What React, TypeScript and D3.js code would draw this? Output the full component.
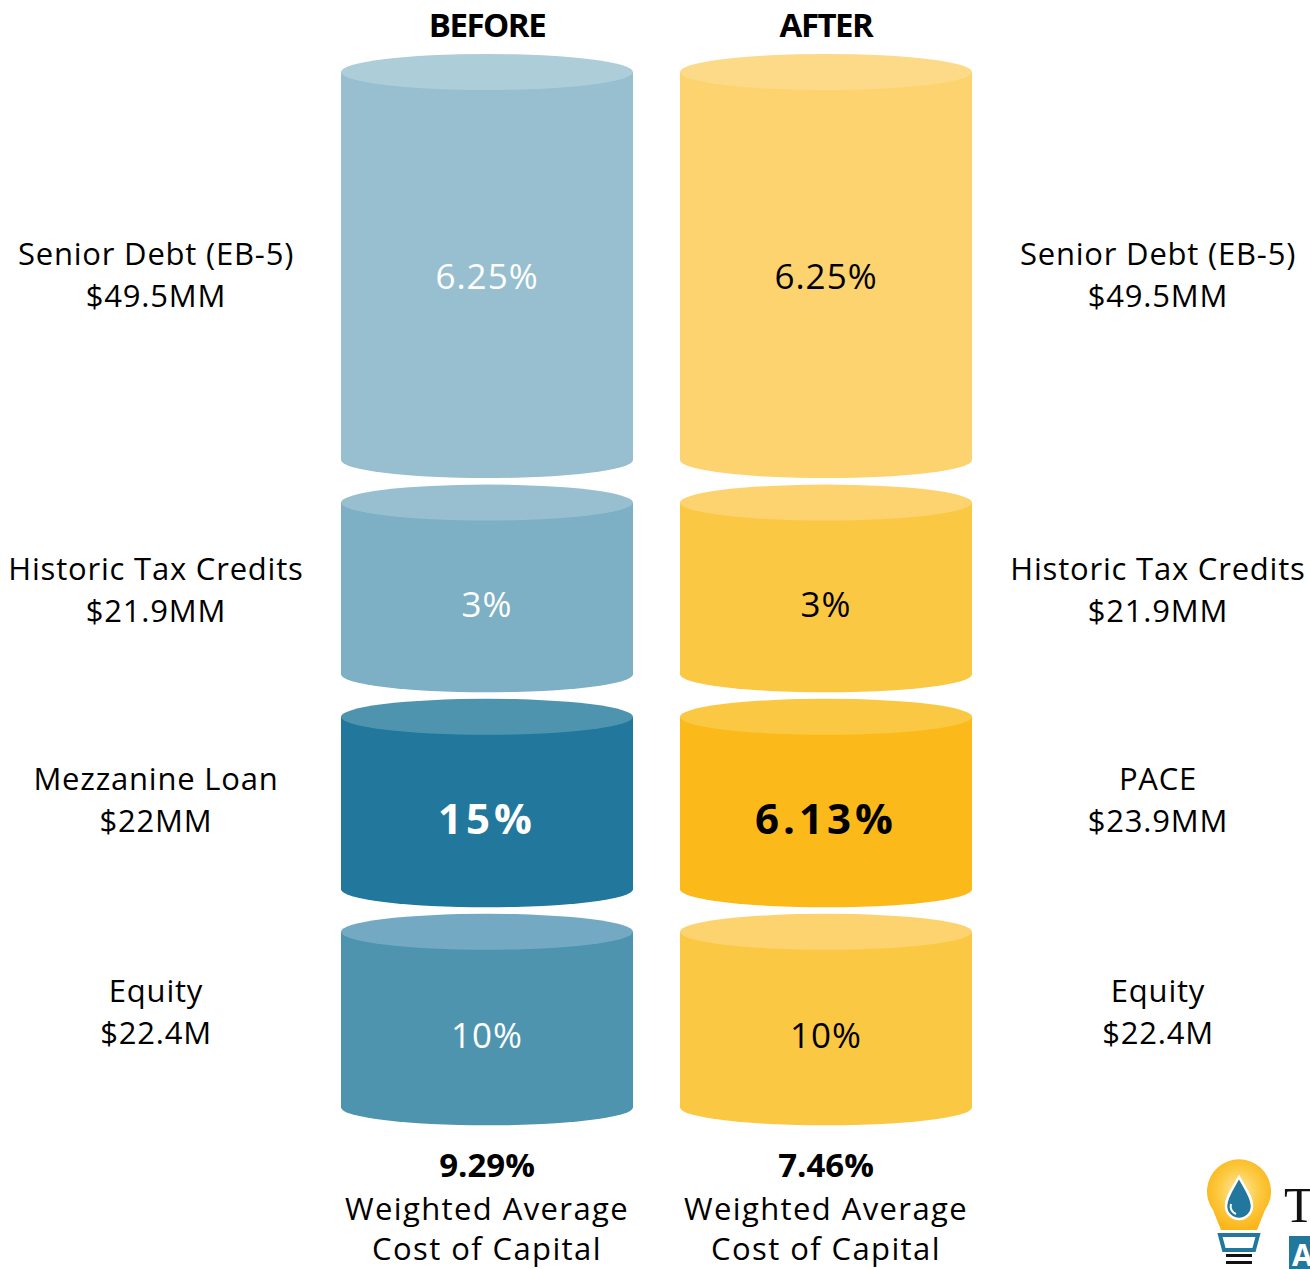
import React from "react";
import * as d3 from "d3";

// ---- data ----
const columnTitles = ["BEFORE", "AFTER"];
const beforeCategories = ["Senior Debt (EB-5)", "Historic Tax Credits", "Mezzanine Loan", "Equity"];
const beforeAmounts = [49.5, 21.9, 22, 22.4];
const beforeAmountLabels = ["$49.5MM", "$21.9MM", "$22MM", "$22.4M"];
const beforeRates = ["6.25%", "3%", "15%", "10%"];
const afterCategories = ["Senior Debt (EB-5)", "Historic Tax Credits", "PACE", "Equity"];
const afterAmounts = [49.5, 21.9, 23.9, 22.4];
const afterAmountLabels = ["$49.5MM", "$21.9MM", "$23.9MM", "$22.4M"];
const afterRates = ["6.25%", "3%", "6.13%", "10%"];
const highlightRow = 2;
const waccValues = ["9.29%", "7.46%"];
const waccLabel = ["Weighted Average", "Cost of Capital"];

// ---- styles ----
const W = 1310;
const H = 1269;
const FONT = "'Open Sans', 'DejaVu Sans', sans-serif";
const beforeBody = ["#97bfd0", "#7dafc5", "#21789c", "#4e94af"];
const beforeTop = ["#adcdd9", "#97bfd0", "#4e94af", "#73a9c2"];
const afterBody = ["#fcd36f", "#fbc843", "#fbba19", "#fbc843"];
const afterTop = ["#fcda87", "#fcd36f", "#fbc843", "#fcd36f"];

const colX = [341, 680];
const colW = 292;
const rx = colW / 2;
const ry = 18;
const y0 = 72;
const gap = 42.5;
const pxPerMM = 7.84;

export default function App() {
  // layout of rows shared by both columns (heights from the before amounts)
  const hScale = d3.scaleLinear().domain([0, 1]).range([0, pxPerMM]);
  const rows = beforeAmounts.map((a, i) => {
    const prev = d3.sum(beforeAmounts.slice(0, i));
    const top = y0 + hScale(prev) + i * gap;
    const bot = top + hScale(a);
    return { top, bot, mid: (top + bot) / 2 };
  });
  // side labels sit on a slightly compressed vertical scale
  const labelY = d3.scaleLinear().domain([rows[0].mid, rows[3].mid]).range([rows[0].mid + 8, rows[3].mid - 8.5]);

  const columns = [
    { cats: beforeCategories, amts: beforeAmountLabels, rates: beforeRates, body: beforeBody, topC: beforeTop, textColor: "#ffffff", labelX: 156 },
    { cats: afterCategories, amts: afterAmountLabels, rates: afterRates, body: afterBody, topC: afterTop, textColor: "#000000", labelX: 1158 },
  ];

  const bodyPath = (x0: number, top: number, bot: number) =>
    `M${x0},${top} L${x0},${bot} A${rx},${ry} 0 0 0 ${x0 + colW},${bot} L${x0 + colW},${top} Z`;

  return (
    <svg width={W} height={H} style={{ position: "absolute", left: 0, top: 0, background: "#fff" }} fontFamily={FONT}>
      {columns.map((c, ci) => {
        const x0 = colX[ci];
        const cx = x0 + rx;
        return (
          <g key={ci}>
            <text x={cx} y={37} textAnchor="middle" fontSize={33} fontWeight={700} letterSpacing={-1.5} fill="#000">
              {columnTitles[ci]}
            </text>
            {rows.map((r, i) => {
              const ly = labelY(r.mid);
              const py = i === 0 ? r.mid + 10 : r.mid + 16;
              return (
                <g key={i}>
                  <path d={bodyPath(x0, r.top, r.bot)} fill={c.body[i]} />
                  <ellipse cx={cx} cy={r.top} rx={rx} ry={ry} fill={c.topC[i]} />
                  {i === highlightRow ? (
                    <text x={cx} y={py + 15} textAnchor="middle" fontSize={42} fontWeight={700} letterSpacing={4} fill={c.textColor}>
                      {c.rates[i]}
                    </text>
                  ) : (
                    <text x={cx} y={py + 12.5} textAnchor="middle" fontSize={35} letterSpacing={1} fill={c.textColor}>
                      {c.rates[i]}
                    </text>
                  )}
                  <text x={c.labelX} y={ly - 9} textAnchor="middle" fontSize={31} letterSpacing={0.8} fill="#000">
                    {c.cats[i]}
                  </text>
                  <text x={c.labelX} y={ly + 33} textAnchor="middle" fontSize={31} letterSpacing={0.8} fill="#000">
                    {c.amts[i]}
                  </text>
                </g>
              );
            })}
            <text x={cx} y={1177} textAnchor="middle" fontSize={33} fontWeight={700} fill="#000">
              {waccValues[ci]}
            </text>
            <text x={cx} y={1220} textAnchor="middle" fontSize={31} letterSpacing={1.4} fill="#000">
              {waccLabel[0]}
            </text>
            <text x={cx} y={1260} textAnchor="middle" fontSize={31} letterSpacing={1.4} fill="#000">
              {waccLabel[1]}
            </text>
          </g>
        );
      })}

      {/* logo */}
      <g>
        <defs>
          <radialGradient id="bulbGrad" cx="50%" cy="45%" r="55%">
            <stop offset="0%" stopColor="#fde9a6" />
            <stop offset="60%" stopColor="#fcc93f" />
            <stop offset="100%" stopColor="#fbb51a" />
          </radialGradient>
        </defs>
        <path d="M1213,1210 A32,32 0 1 1 1265,1210 L1257,1230 L1221,1230 Z" fill="url(#bulbGrad)" />
        <path
          d="M1239,1177 C1245,1188 1252,1197 1252,1206 A13,13 0 0 1 1226,1206 C1226,1197 1233,1188 1239,1177 Z"
          fill="#21779c"
          stroke="#ffffff"
          strokeWidth={2.5}
        />
        <path d="M1231,1204 A8,8 0 0 0 1236,1214" fill="none" stroke="#ffffff" strokeWidth={2} />
        <path d="M1220,1235 L1258,1235 L1254,1250 L1224,1250 Z" fill="#ffffff" stroke="#21779c" strokeWidth={4} />
        <rect x={1226} y={1254} width={26} height={3} fill="#111" />
        <rect x={1226} y={1261} width={26} height={3} fill="#111" />
        <text x={1284} y={1222} fontFamily="'Liberation Serif', 'DejaVu Serif', serif" fontSize={50} fill="#111">
          T
        </text>
        <rect x={1289} y={1236} width={30} height={40} fill="#21779c" />
        <text x={1292} y={1266} fontSize={30} fontWeight={700} fill="#ffffff">
          A
        </text>
      </g>
    </svg>
  );
}
